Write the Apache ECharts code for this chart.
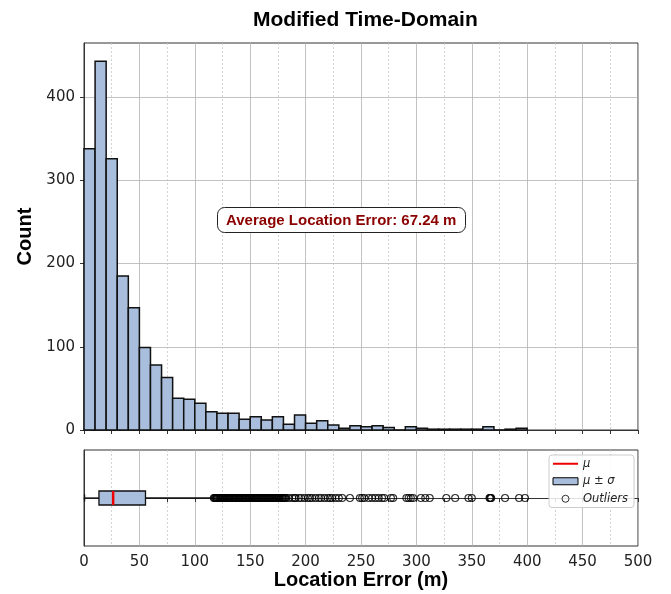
<!DOCTYPE html>
<html>
<head>
<meta charset="utf-8">
<script src="https://cdn.jsdelivr.net/npm/echarts@6/dist/echarts.min.js"></script>
<style>html,body{margin:0;padding:0;background:#fff}#c{width:671px;height:594px}</style>
</head>
<body>
<div id="c"></div>
<script>
// ---- data ----
const binStarts = [0,10,20,30,40,50,60,70,80,90,100,110,120,130,140,150,160,170,180,190,200,210,220,230,240,250,260,270,280,290,300,310,320,330,340,350,360,370,380,390];
const binWidth = 10;
const counts = [338,443,326,185,147,99,78,63,38,37,32,22,20,20,13,16,12,16,7,18,8,11,6,2,5,4,5,3,0,4,2,1,1,1,1,1,4,0,1,2];
// box stats: [lower whisker, Q1, median, Q3, upper whisker]
const boxStats = [0.5, 13.5, 26.3, 55.5, 117];
const outliers = [117.2,117.9,118.5,119.1,119.8,120.6,121.4,122.2,122.9,123.5,124.1,125.0,125.8,126.4,127.0,127.9,128.6,129.4,130.3,130.9,131.5,132.4,133.2,134.0,134.8,135.3,136.1,137.0,137.9,138.6,139.4,140.1,140.7,141.6,142.5,143.3,144.0,144.9,145.6,146.2,147.1,148.0,148.9,149.5,150.2,151.1,152.0,152.6,153.4,154.3,155.1,156.0,156.8,157.4,158.2,159.1,160.0,160.6,161.3,162.2,163.1,163.8,164.6,165.5,166.4,167.0,167.9,168.8,169.5,170.3,171.2,172.0,172.8,173.5,174.3,175.2,176.0,176.7,177.6,178.4,179.1,180.0,180.8,181.5,182.4,
185,188,190,191,194,196,199,202,204,206,209,212,214,217,220,222,224,227,230,233,
240,249,251,253,257,260,263,266,269,271,277,279,
291,293,295,297,304,308,312,327,335,347,350,366,366.5,367,367.5,380,392.7,398];
const yTicks = [0,100,200,300,400];
const meanError = 67.24;
const titleText = 'Modified Time-Domain';
const xLabel = 'Location Error (m)';
const yLabel = 'Count';

// ---- chart ----
const fill = '#a9bedc';
const chart = echarts.init(document.getElementById('c'), null, {renderer:'canvas'});
const tickFont = {fontFamily:'DejaVu Sans', fontSize:15, color:'#222'};
const gridLineMajor = {show:true, lineStyle:{color:'#b4b4b4', width:0.8}};
const gridLineMinor = {show:true, lineStyle:{color:'#c8c8c8', width:0.8, type:[2,2]}};
const labelFont = {fontFamily:'Liberation Sans', fontWeight:'bold', fontSize:20, color:'#000'};

const option = {
  animation:false,
  title:[
    {text:titleText, left:248, top:5, textStyle:{fontFamily:'Liberation Sans', fontWeight:'bold', fontSize:21, color:'#000'}},
    {text:'Average Location Error: ' + meanError.toFixed(2) + ' m', left:217, top:207,
     padding:[6,9,5,9], borderColor:'#222', borderWidth:1, borderRadius:7, backgroundColor:'#fff',
     textStyle:{fontFamily:'Liberation Sans', fontWeight:'bold', fontSize:15, color:'#8b0000'}}
  ],
  grid:[
    {left:84, top:43, width:554, height:387, show:true, borderColor:'#333', borderWidth:1, backgroundColor:'transparent'},
    {left:84, top:450, width:554, height:96, show:true, borderColor:'#333', borderWidth:1, backgroundColor:'transparent'}
  ],
  legend:{
    orient:'vertical', left:549, top:455, itemWidth:25, itemHeight:7, itemGap:4,
    padding:[2,6,2,3], borderColor:'#ccc', borderWidth:1, borderRadius:3, backgroundColor:'rgba(255,255,255,0.85)',
    textStyle:{fontFamily:'DejaVu Sans', fontStyle:'italic', fontSize:11.5, color:'#222', lineHeight:13.5},
    data:[
      {name:'μ', icon:'line', itemStyle:{color:'#ee0000', borderColor:'#ee0000', borderWidth:2}},
      {name:'μ ± σ', icon:'rect', itemStyle:{color:fill, borderColor:'#000', borderWidth:1}},
      {name:'Outliers', icon:'circle', itemStyle:{color:'rgba(0,0,0,0)', borderColor:'#000', borderWidth:1}}
    ]
  },
  xAxis:[
    {gridIndex:0, type:'value', min:0, max:500, interval:50,
     axisLine:{show:true, lineStyle:{color:'#333'}}, axisLabel:{show:false},
     axisTick:{show:true, length:4, lineStyle:{color:'#333'}},
     minorTick:{show:true, splitNumber:2, length:4, lineStyle:{color:'#333'}},
     splitLine:gridLineMajor, minorSplitLine:gridLineMinor},
    {gridIndex:1, type:'value', min:0, max:500, interval:50,
     axisLine:{show:true, lineStyle:{color:'#333'}},
     axisLabel:Object.assign({margin:9}, tickFont),
     axisTick:{show:true, length:4, lineStyle:{color:'#333'}},
     minorTick:{show:true, splitNumber:2, length:4, lineStyle:{color:'#333'}},
     splitLine:gridLineMajor, minorSplitLine:gridLineMinor,
     name:xLabel, nameLocation:'middle', nameGap:23, nameTextStyle:labelFont}
  ],
  yAxis:[
    {gridIndex:0, type:'value', min:0, max:465, interval:100,
     axisLine:{show:true, lineStyle:{color:'#333'}},
     axisLabel:Object.assign({margin:9, customValues:yTicks}, tickFont),
     axisTick:{show:true, length:4, lineStyle:{color:'#333'}, customValues:yTicks},
     splitLine:gridLineMajor,
     name:yLabel, nameLocation:'middle', nameGap:48, nameRotate:90, nameTextStyle:labelFont},
    {gridIndex:1, type:'value', min:-1, max:1,
     axisLine:{show:true, lineStyle:{color:'#333'}}, axisLabel:{show:false},
     axisTick:{show:false}, splitLine:{show:false}}
  ],
  series:[
    {type:'custom', name:'hist', xAxisIndex:0, yAxisIndex:0, z:3,
     data: binStarts.map((s,i)=>[s, s+binWidth, counts[i]]),
     renderItem:function(params, api){
       const p0 = api.coord([api.value(0), api.value(2)]);
       const p1 = api.coord([api.value(1), 0]);
       return {type:'rect', shape:{x:p0[0], y:p0[1], width:p1[0]-p0[0], height:p1[1]-p0[1]},
               style:{fill:fill, stroke:'#111', lineWidth:1.5}};
     }},
    {type:'custom', name:'μ ± σ', xAxisIndex:1, yAxisIndex:1, z:3,
     itemStyle:{color:fill, borderColor:'#000', borderWidth:1},
     data:[boxStats],
     renderItem:function(params, api){
       const lo = api.coord([api.value(0), 0]);
       const q1 = api.coord([api.value(1), 0]);
       const q3 = api.coord([api.value(3), 0]);
       const hi = api.coord([api.value(4), 0]);
       const h = 7, c = 3.5, y = lo[1];
       const st = {stroke:'#111', lineWidth:1.3};
       return {type:'group', children:[
         {type:'line', shape:{x1:lo[0], y1:y, x2:q1[0], y2:y}, style:st},
         {type:'line', shape:{x1:q3[0], y1:y, x2:hi[0], y2:y}, style:st},
         {type:'line', shape:{x1:lo[0], y1:y-c, x2:lo[0], y2:y+c}, style:st},
         {type:'line', shape:{x1:hi[0], y1:y-c, x2:hi[0], y2:y+c}, style:st},
         {type:'rect', shape:{x:q1[0], y:y-h, width:q3[0]-q1[0], height:2*h}, style:{fill:fill, stroke:'#111', lineWidth:1.3}}
       ]};
     }},
    {type:'line', name:'μ', xAxisIndex:1, yAxisIndex:1, z:5, symbol:'none',
     lineStyle:{color:'#ee0000', width:2.5}, itemStyle:{color:'#ee0000'},
     data:[[boxStats[2], -0.145],[boxStats[2], 0.145]]},
    {type:'scatter', name:'Outliers', xAxisIndex:1, yAxisIndex:1, z:4,
     symbol:'circle', symbolSize:7,
     itemStyle:{color:'rgba(0,0,0,0)', borderColor:'#000', borderWidth:1.1},
     data: outliers.map(v=>[v,0])}
  ]
};
chart.setOption(option);
</script>
</body>
</html>
